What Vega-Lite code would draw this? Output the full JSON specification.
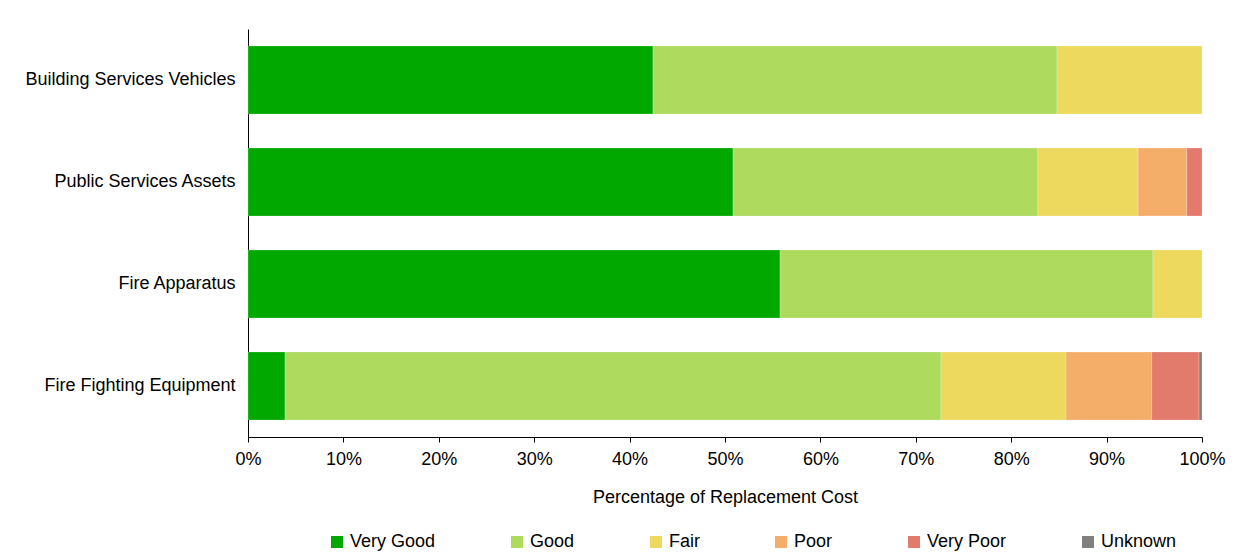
{
  "$schema": "https://vega.github.io/schema/vega-lite/v6.json",
  "autosize": {"type": "none"},
  "width": 954,
  "height": 408,
  "padding": {"left": 248, "top": 29, "right": 46, "bottom": 115},
  "background": "white",
  "config": {
    "view": {"stroke": null},
    "font": "Liberation Sans",
    "axis": {"labelFont": "Liberation Sans", "titleFont": "Liberation Sans", "labelColor": "#000000", "titleColor": "#000000", "domainColor": "#000000", "tickColor": "#000000", "grid": false}
  },
  "data": {
    "values": [
      {"asset": "Building Services Vehicles", "condition": "Very Good", "ord": 1, "pct": 42.45},
      {"asset": "Building Services Vehicles", "condition": "Good", "ord": 2, "pct": 42.35},
      {"asset": "Building Services Vehicles", "condition": "Fair", "ord": 3, "pct": 15.2},
      {"asset": "Public Services Assets", "condition": "Very Good", "ord": 1, "pct": 50.84},
      {"asset": "Public Services Assets", "condition": "Good", "ord": 2, "pct": 31.96},
      {"asset": "Public Services Assets", "condition": "Fair", "ord": 3, "pct": 10.5},
      {"asset": "Public Services Assets", "condition": "Poor", "ord": 4, "pct": 5.1},
      {"asset": "Public Services Assets", "condition": "Very Poor", "ord": 5, "pct": 1.6},
      {"asset": "Fire Apparatus", "condition": "Very Good", "ord": 1, "pct": 55.77},
      {"asset": "Fire Apparatus", "condition": "Good", "ord": 2, "pct": 39.09},
      {"asset": "Fire Apparatus", "condition": "Fair", "ord": 3, "pct": 5.14},
      {"asset": "Fire Fighting Equipment", "condition": "Very Good", "ord": 1, "pct": 3.88},
      {"asset": "Fire Fighting Equipment", "condition": "Good", "ord": 2, "pct": 68.76},
      {"asset": "Fire Fighting Equipment", "condition": "Fair", "ord": 3, "pct": 13.1},
      {"asset": "Fire Fighting Equipment", "condition": "Poor", "ord": 4, "pct": 8.99},
      {"asset": "Fire Fighting Equipment", "condition": "Very Poor", "ord": 5, "pct": 4.96},
      {"asset": "Fire Fighting Equipment", "condition": "Unknown", "ord": 6, "pct": 0.31}
    ]
  },
  "mark": {"type": "bar", "stroke": "white", "strokeWidth": 0.6, "strokeOpacity": 0.35},
  "encoding": {
    "y": {
      "field": "asset",
      "type": "nominal",
      "sort": ["Building Services Vehicles", "Public Services Assets", "Fire Apparatus", "Fire Fighting Equipment"],
      "scale": {"paddingInner": 0.3333, "paddingOuter": 0.1667},
      "axis": {"title": null, "ticks": false, "labelFontSize": 18, "labelPadding": 13, "labelLimit": 300, "domainWidth": 1}
    },
    "x": {
      "field": "pct",
      "type": "quantitative",
      "stack": "zero",
      "scale": {"domain": [0, 100], "nice": false},
      "axis": {
        "title": "Percentage of Replacement Cost",
        "titleFontSize": 18,
        "titleFontWeight": "normal",
        "titlePadding": 20,
        "labelFontSize": 18,
        "labelPadding": 8,
        "tickSize": 5,
        "values": [0, 10, 20, 30, 40, 50, 60, 70, 80, 90, 100],
        "labelExpr": "datum.value + '%'",
        "labelFlush": false
      }
    },
    "color": {
      "field": "condition",
      "type": "nominal",
      "scale": {
        "domain": ["Very Good", "Good", "Fair", "Poor", "Very Poor", "Unknown"],
        "range": ["#00A800", "#AEDB5E", "#EDD95E", "#F5AE6A", "#E27B6C", "#808080"]
      },
      "legend": {
        "title": null,
        "orient": "none",
        "direction": "horizontal",
        "legendX": 80,
        "legendY": 504,
        "gridAlign": "none",
        "symbolType": "square",
        "symbolSize": 144,
        "symbolStrokeWidth": 0,
        "symbolOpacity": 1,
        "labelFontSize": 18,
        "labelColor": "#000000",
        "labelFont": "Liberation Sans",
        "columnPadding": 72,
        "labelOffset": 4
      }
    },
    "order": {"field": "ord", "type": "quantitative"}
  }
}
